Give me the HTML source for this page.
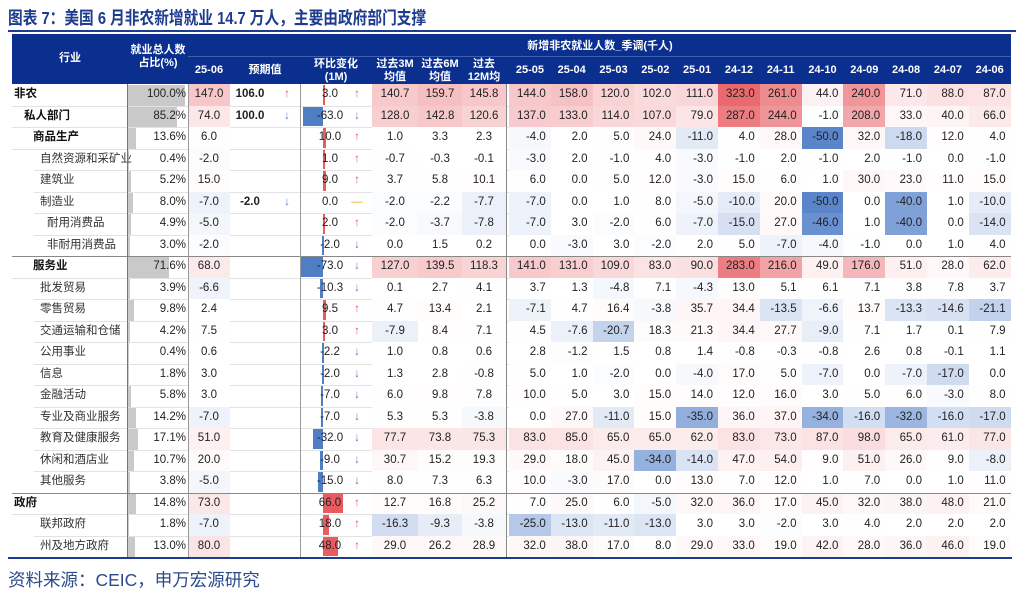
<!DOCTYPE html>
<html><head><meta charset="utf-8"><style>
body{margin:0;width:1024px;height:599px;background:#fff;overflow:hidden;position:relative;font-family:"Liberation Sans","Noto Sans CJK SC",sans-serif;}
.a{position:absolute;white-space:nowrap;}
#title{left:8px;top:5px;font-size:17.5px;font-weight:bold;color:#1d3b8f;transform:scaleX(0.84);transform-origin:0 0;}
#src{left:8px;top:567px;font-size:17.5px;color:#2c4a8c;}
.c{position:absolute;font-size:11.5px;color:#222;line-height:21px;height:21px;}
.h{position:absolute;color:#fff;font-size:11px;font-weight:bold;text-align:center;line-height:13px;}
</style></head><body>
<div id="title" class="a">图表 7：美国 6 月非农新增就业 14.7 万人，主要由政府部门支撑</div>
<div class="a" style="left:8px;top:30px;width:1008px;height:2px;background:#1d3b8f"></div>
<div id="tbl" class="a" style="left:0;top:0;width:1024px;height:599px"></div>
<div class="a" style="left:8px;top:557px;width:1004px;height:2px;background:#1d3b8f"></div>
<div id="src" class="a">资料来源：CEIC，申万宏源研究</div>
<script>
const names=["非农","私人部门","商品生产","自然资源和采矿业","建筑业","制造业","耐用消费品","非耐用消费品","服务业","批发贸易","零售贸易","交通运输和仓储","公用事业","信息","金融活动","专业及商业服务","教育及健康服务","休闲和酒店业","其他服务","政府","联邦政府","州及地方政府"];
const indent=[14,24,33,40,40,40,47,47,33,40,40,40,40,40,40,40,40,40,40,14,40,40];
const bold=[1,1,1,0,0,0,0,0,1,0,0,0,0,0,0,0,0,0,0,1,0,0];
const shares=[100.0,85.2,13.6,0.4,5.2,8.0,4.9,3.0,71.6,3.9,9.8,4.2,0.4,1.8,5.8,14.2,17.1,10.7,3.8,14.8,1.8,13.0];
const latest=[147.0,74.0,6.0,-2.0,15.0,-7.0,-5.0,-2.0,68.0,-6.6,2.4,7.5,0.6,3.0,3.0,-7.0,51.0,20.0,-5.0,73.0,-7.0,80.0];
const expected=[106.0,100.0,null,null,null,-2.0,null,null,null,null,null,null,null,null,null,null,null,null,null,null,null,null];
const mom=[3.0,-63.0,10.0,1.0,9.0,0.0,2.0,-2.0,-73.0,-10.3,9.5,3.0,-2.2,-2.0,-7.0,-7.0,-32.0,-9.0,-15.0,66.0,18.0,48.0];
const avg3=[140.7,128.0,1.0,-0.7,3.7,-2.0,-2.0,0.0,127.0,0.1,4.7,-7.9,1.0,1.3,6.0,5.3,77.7,30.7,8.0,12.7,-16.3,29.0];
const avg6=[159.7,142.8,3.3,-0.3,5.8,-2.2,-3.7,1.5,139.5,2.7,13.4,8.4,0.8,2.8,9.8,5.3,73.8,15.2,7.3,16.8,-9.3,26.2];
const avg12=[145.8,120.6,2.3,-0.1,10.1,-7.7,-7.8,0.2,118.3,4.1,2.1,7.1,0.6,-0.8,7.8,-3.8,75.3,19.3,6.3,25.2,-3.8,28.9];
const months=["25-05","25-04","25-03","25-02","25-01","24-12","24-11","24-10","24-09","24-08","24-07","24-06"];
const monthly=[
[144,158,120,102,111,323,261,44,240,71,88,87],
[137,133,114,107,79,287,244,-1,208,33,40,66],
[-4,2,5,24,-11,4,28,-50,32,-18,12,4],
[-3,2,-1,4,-3,-1,2,-1,2,-1,0,-1],
[6,0,5,12,-3,15,6,1,30,23,11,15],
[-7,0,1,8,-5,-10,20,-50,0,-40,1,-10],
[-7,3,-2,6,-7,-15,27,-46,1,-40,0,-14],
[0,-3,3,-2,2,5,-7,-4,-1,0,1,4],
[141,131,109,83,90,283,216,49,176,51,28,62],
[3.7,1.3,-4.8,7.1,-4.3,13.0,5.1,6.1,7.1,3.8,7.8,3.7],
[-7.1,4.7,16.4,-3.8,35.7,34.4,-13.5,-6.6,13.7,-13.3,-14.6,-21.1],
[4.5,-7.6,-20.7,18.3,21.3,34.4,27.7,-9.0,7.1,1.7,0.1,7.9],
[2.8,-1.2,1.5,0.8,1.4,-0.8,-0.3,-0.8,2.6,0.8,-0.1,1.1],
[5,1,-2,0,-4,17,5,-7,0,-7,-17,0],
[10,5,3,15,14,12,16,3,5,6,-3,8],
[0,27,-11,15,-35,36,37,-34,-16,-32,-16,-17],
[83,85,65,65,62,83,73,87,98,65,61,77],
[29,18,45,-34,-14,47,54,9,51,26,9,-8],
[10,-3,17,0,13,7,12,1,7,0,1,11],
[7,25,6,-5,32,36,17,45,32,38,48,21],
[-25,-13,-11,-13,3,3,-2,3,4,2,2,2],
[32,38,17,8,29,33,19,42,28,36,46,19]];

const T=document.getElementById('tbl');
const R0=84, RH=21.5, M0=509, MW=41.8;
function yOf(i){return R0+i*RH;}
function mxOf(j){return M0+j*MW;}
function heat(v){
  if(v>0){let t=Math.min(v/320,1);t=Math.pow(t,1.25);return `rgb(${Math.round(255-t*22)},${Math.round(255-t*150)},${Math.round(255-t*145)})`;}
  if(v<0){let t=Math.min(-v/50,1);t=Math.pow(t,1.15);return `rgb(${Math.round(255-t*165)},${Math.round(255-t*122)},${Math.round(255-t*52)})`;}
  return '#fff';
}
function box(x,y,w,h,bg,name){const d=document.createElement('div');d.className='a';d.style.cssText=`left:${x}px;top:${y}px;width:${w}px;height:${h}px;background:${bg}`;


T.appendChild(d);return d;}
function txt(x,y,w,s,align,name,extra){const d=document.createElement('div');d.className='c';d.style.cssText=`left:${x}px;top:${y}px;width:${w}px;text-align:${align};${extra||''}`;d.textContent=s;


T.appendChild(d);return d;}
function hd(x,y,w,s,name){const d=document.createElement('div');d.className='h';d.style.cssText=`left:${x}px;top:${y}px;width:${w}px`;d.innerHTML=s;


T.appendChild(d);}
box(12,34,999,50,'#0b2f8f','header-band');
box(188,56,823,1,'#3d5fb0','header-divider');
hd(12,52,116,'行业','header-industry');
hd(128,44,60,'就业总人数<br>占比(%)','header-share');
hd(188,64,42,'25-06','header-latest');
hd(230,64,70,'预期值','header-expected');
hd(300,58,72,'环比变化<br>(1M)','header-mom');
hd(372,58,46,'过去3M<br>均值','header-avg3');
hd(418,58,44,'过去6M<br>均值','header-avg6');
hd(462,58,44,'过去<br>12M均','header-avg12');
hd(520,40,160,'新增非农就业人数_季调(千人)','header-monthly-group');
months.forEach((m,j)=>hd(mxOf(j),64,MW,m,'header-month-'+m));
const fmt=v=>v.toFixed(1);
names.forEach((n,i)=>{
  const y=yOf(i);
  box(128,y+1,shares[i]/100*57,RH-1,'#c9c9c9','share-bar');
  txt(128,y,58,fmt(shares[i])+'%','right','share-value');
  box(188,y,42,RH,heat(latest[i]),'latest-cell');
  txt(188,y,42,fmt(latest[i]),'center','latest-value');
  if(expected[i]!==null){
    txt(230,y,40,fmt(expected[i]),'center','expected-value','font-weight:bold');
    const up=latest[i]>expected[i];
    txt(278,y,18,up?'↑':'↓','center','expected-arrow','color:'+(up?'#e06060':'#5b85c8'));
  }
  const z=323, s=0.31, v=mom[i];
  if(v!==0) box(v>0?z:z+v*s,y+1,Math.max(Math.abs(v*s),2),RH-2,v>0?'#e95b5e':'#4f7ec4','mom-bar');
  txt(310,y,40,fmt(v),'center','mom-value');
  txt(348,y,18,v>0?'↑':(v<0?'↓':'—'),'center','mom-arrow','color:'+(v>0?'#e06060':(v<0?'#5b85c8':'#e8b400')));
  [[avg3,372,46,'avg3'],[avg6,418,44,'avg6'],[avg12,462,44,'avg12']].forEach(([a,x,w,nm])=>{
    box(x,y,w,RH,heat(a[i]),nm+'-cell');txt(x,y,w,fmt(a[i]),'center',nm+'-value');});
  monthly[i].forEach((mv,j)=>{
    const x=mxOf(j);
    box(x,y,MW,RH,heat(mv),'month-cell');
    txt(x,y,MW-5,fmt(mv),'right','month-value');
  });
  txt(indent[i],y,110,n,'left','row-label',bold[i]?'font-weight:bold;color:#111':'color:#333');
  const full=(i<3||i==8||i==19);
  box(full?12:34,y+RH,full?999:977,1,'#e2e2e2','row-separator');
});
box(12,yOf(8),999,1,'#888','group-line-services');
box(12,yOf(19),999,1,'#888','group-line-government');
box(127,84,1,473,'#777','vline-share');
box(188,84,1,473,'#999','vline-latest');
box(300,84,1,473,'#999','vline-mom');
box(506,84,1,473,'#888','vline-monthly');
</script>
</body></html>
